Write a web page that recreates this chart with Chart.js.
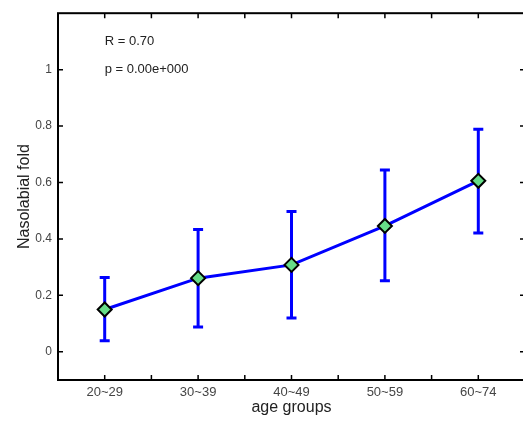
<!DOCTYPE html>
<html>
<head>
<meta charset="utf-8">
<script src="https://cdn.jsdelivr.net/npm/chart.js@4/dist/chart.umd.min.js"></script>
<style>
  html, body { margin: 0; padding: 0; background: #fff; overflow: hidden; }
  canvas { display: block; }
</style>
</head>
<body>
<canvas id="chart" width="534" height="423"></canvas>
<script>
// data
const groups = ["20~29", "30~39", "40~49", "50~59", "60~74"];
const means = [0.150, 0.261, 0.308, 0.446, 0.606];
const errLow = [0.039, 0.088, 0.120, 0.252, 0.421];
const errHigh = [0.263, 0.433, 0.497, 0.644, 0.789];
const yTicks = [0, 0.2, 0.4, 0.6, 0.8, 1];
const notes = ["R = 0.70", "p = 0.00e+000"];

const FONT = "'Liberation Sans', Arial, sans-serif";

// 🔹 error bars, drawn under the markers
const errorBars = {
    id: "errorBars",
    beforeDatasetsDraw(chart) {
        const ctx = chart.ctx;
        const x = chart.scales.x, y = chart.scales.y;
        ctx.save();
        ctx.strokeStyle = "#0000ff";
        ctx.lineWidth = 3;
        means.forEach((m, i) => {
            let px = x.getPixelForValue(i + 1);
            let lo = y.getPixelForValue(errLow[i]);
            let hi = y.getPixelForValue(errHigh[i]);
            ctx.beginPath();
            ctx.moveTo(px, lo); ctx.lineTo(px, hi);
            ctx.moveTo(px - 5, lo); ctx.lineTo(px + 5, lo);
            ctx.moveTo(px - 5, hi); ctx.lineTo(px + 5, hi);
            ctx.stroke();
        });
        ctx.restore();
    }
};

// 🔹 box frame, inward ticks, R / p text
const frame = {
    id: "frame",
    afterDraw(chart) {
        const ctx = chart.ctx;
        const a = chart.chartArea;
        const x = chart.scales.x, y = chart.scales.y;
        ctx.save();
        ctx.strokeStyle = "#000";
        ctx.lineWidth = 2;
        ctx.strokeRect(a.left, a.top, a.right - a.left, a.bottom - a.top);

        ctx.lineWidth = 1.5;
        ctx.beginPath();
        for (let v = 1; v <= 9; v++) {
            let px = x.getPixelForValue(0.5 + v * 0.5);
            ctx.moveTo(px, a.bottom); ctx.lineTo(px, a.bottom - 5);
            ctx.moveTo(px, a.top); ctx.lineTo(px, a.top + 5);
        }
        yTicks.forEach(v => {
            let py = y.getPixelForValue(v);
            ctx.moveTo(a.left, py); ctx.lineTo(a.left + 5, py);
            ctx.moveTo(a.right, py); ctx.lineTo(a.right - 5, py);
        });
        ctx.stroke();

        ctx.fillStyle = "#222";
        ctx.font = "13px " + FONT;
        ctx.textAlign = "left";
        ctx.textBaseline = "middle";
        ctx.fillText(notes[0], x.getPixelForValue(1), y.getPixelForValue(1.1));
        ctx.fillText(notes[1], x.getPixelForValue(1), y.getPixelForValue(1.0));
        ctx.restore();
    }
};

new Chart(document.getElementById("chart"), {
    type: "line",
    data: {
        datasets: [{
            data: means.map((m, i) => ({ x: i + 1, y: m })),
            borderColor: "#0000ff",
            borderWidth: 3,
            pointStyle: "rectRot",
            pointRadius: 7,
            pointBackgroundColor: "#66dd88",
            pointBorderColor: "#000",
            pointBorderWidth: 2,
            tension: 0
        }]
    },
    options: {
        responsive: false,
        animation: false,
        layout: { padding: { top: 9, right: 5, left: 0, bottom: 0 } },
        plugins: { legend: { display: false }, tooltip: { enabled: false } },
        scales: {
            x: {
                type: "linear",
                min: 0.5,
                max: 5.5,
                grid: { display: false, drawTicks: false },
                border: { display: false },
                afterFit(s) { s.height = 43; },
                ticks: {
                    stepSize: 0.5,
                    autoSkip: false,
                    maxRotation: 0,
                    padding: 5,
                    color: "#444",
                    font: { family: FONT, size: 13 },
                    callback: v => Number.isInteger(v) ? groups[v - 1] : ""
                },
                title: {
                    display: true,
                    text: "age groups",
                    color: "#222",
                    font: { family: FONT, size: 16 },
                    padding: { top: 0, bottom: 6 }
                }
            },
            y: {
                min: -0.1,
                max: 1.2,
                grid: { display: false, drawTicks: false },
                border: { display: false },
                afterFit(s) { s.width = 58; },
                afterBuildTicks(s) { s.ticks = yTicks.map(v => ({ value: v })); },
                ticks: {
                    padding: 6,
                    color: "#444",
                    font: { family: FONT, size: 12 },
                    callback: v => String(v)
                },
                title: {
                    display: true,
                    text: "Nasolabial fold",
                    color: "#222",
                    font: { family: FONT, size: 16 },
                    padding: { top: 15, bottom: 0 }
                }
            }
        }
    },
    plugins: [errorBars, frame]
});
</script>
</body>
</html>
